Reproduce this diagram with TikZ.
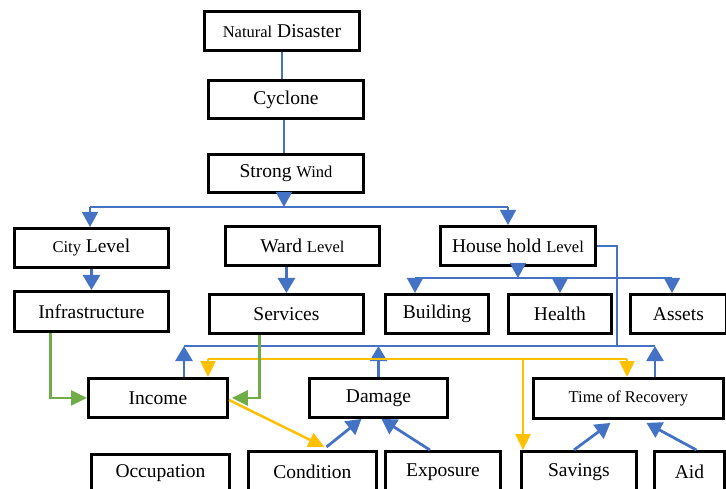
\documentclass[tikz,border=0pt]{standalone}
\usepackage{fontspec}
\setmainfont{Liberation Serif}
\usetikzlibrary{arrows.meta}
\definecolor{blueln}{HTML}{4472C4}
\definecolor{yelln}{HTML}{FFC000}
\definecolor{grnln}{HTML}{70AD47}
\newcommand\smtxt{\fontsize{16.5}{19}\selectfont}
\tikzset{
  box/.style={draw, line width=2.9pt, anchor=north west, inner sep=0pt,
    font=\fontsize{19.5}{23}\selectfont},
  thinb/.style={draw=blueln, line width=1.6pt},
  thinarr/.style={thinb, -{Triangle[length=15pt,width=16pt]}},
  bluearr/.style={draw=blueln, line width=2.8pt, -{Triangle[length=15pt,width=17pt]}},
  ythin/.style={draw=yelln, line width=1.8pt},
  yarr/.style={draw=yelln, line width=2.5pt, -{Triangle[length=16pt,width=15pt]}},
  garr/.style={draw=grnln, line width=2.8pt, -{Triangle[length=16pt,width=15pt]}}
}
\begin{document}
\begin{tikzpicture}[x=1pt,y=-1pt]
\useasboundingbox (0,0) rectangle (726,489);
% top chain
\node[box,minimum width=155pt,minimum height=39pt] (nd) at (203,10) {{\smtxt Natural} Disaster};
\node[box,minimum width=155pt,minimum height=38pt] (cyc) at (207,79) {Cyclone};
\node[box,minimum width=155pt,minimum height=38pt] (wind) at (207,153) {Strong {\smtxt Wind}};
% levels
\node[box,minimum width=154pt,minimum height=39pt] (city) at (13,227) {{\smtxt City} Level};
\node[box,minimum width=154pt,minimum height=39pt] (ward) at (224,225) {Ward {\smtxt Level}};
\node[box,minimum width=155pt,minimum height=39pt] (house) at (439,225) {House hold {\smtxt Level}};
\node[box,minimum width=154pt,minimum height=40pt] (infra) at (13,290) {Infrastructure};
\node[box,minimum width=154pt,minimum height=39pt] (serv) at (208,293) {Services};
\node[box,minimum width=103pt,minimum height=39pt] (build) at (384,293) {Building};
\node[box,minimum width=103pt,minimum height=39pt] (health) at (507,293) {Health};
\node[box,minimum width=96pt,minimum height=39pt] (assets) at (629,293) {Assets};
% outcomes
\node[box,minimum width=139pt,minimum height=39pt] (income) at (87,377) {Income};
\node[box,minimum width=138pt,minimum height=39pt] (damage) at (308,377) {Damage};
\node[box,minimum width=190pt,minimum height=40pt] (tor) at (532,377) {\smtxt Time of Recovery};
% bottom row
\node[box,minimum width=138pt,minimum height=38pt] (occ) at (90,453) {Occupation};
\node[box,minimum width=128pt,minimum height=41pt] (cond) at (247,450) {Condition\hspace{12pt}};
\node[box,minimum width=115pt,minimum height=41pt] (expo) at (384,450) {Exposure};
\node[box,minimum width=115pt,minimum height=41pt] (sav) at (520,450) {Savings};
\node[box,minimum width=70pt,minimum height=41pt] (aid) at (653,450) {Aid};
% bars
\coordinate (barL) at (90,207);
\coordinate (barR) at (508,207);
\coordinate (hbL) at (415,278);
\coordinate (hbR) at (672,278);
\coordinate (ubL) at (184,346);
\coordinate (ubR) at (655,346);
\coordinate (hr) at (617,346);
\coordinate (ybL) at (208,359);
\coordinate (ybM) at (523,359);
\coordinate (ybR) at (627,359);
\draw[thinb] (nd.south) -- (nd.south |- cyc.north);
\draw[thinb] ([xshift=-2pt]cyc.south) -- ([xshift=-2pt]cyc.south |- wind.north);
\draw[thinarr] ([xshift=-2pt]wind.south) -- ([xshift=-2pt]wind.south |- barL);
\draw[thinb] (barL) -- (barR);
\draw[thinarr] (barL) -- (barL |- city.north);
\draw[thinarr] (barR) -- (barR |- house.north);
\draw[bluearr] (city.south) -- (city.south |- infra.north);
\draw[bluearr] (serv.north |- ward.south) -- (serv.north);
\draw[thinarr] (house.south) -- (house.south |- hbL);
\draw[thinb] (hbL) -- (hbR);
\draw[thinarr] (hbL) -- (hbL |- build.north);
\draw[thinarr] (health.north |- hbL) -- (health.north);
\draw[thinarr] (hbR) -- (hbR |- assets.north);
\draw[thinb] (house.east) -| (hr);
\draw[thinb] (ubL) -- (ubR);
\draw[bluearr] (ubL |- income.north) -- (ubL);
\draw[bluearr] (damage.north) -- (damage.north |- ubL);
\draw[bluearr] (ubR |- tor.north) -- (ubR);
\draw[ythin] (ybL) -- (ybR);
\draw[yarr] (ybL) -- (ybL |- income.north);
\draw[yarr] (ybR) -- (ybR |- tor.north);
\draw[yarr] (ybM) -- (ybM |- sav.north);
\draw[garr] ([xshift=-41pt]infra.south) |- (income.west);
\draw[garr] ([xshift=-27pt]serv.south) |- ([xshift=3pt]income.east);
\draw[yarr] ([yshift=-2pt]income.east) -- ([xshift=12pt,yshift=3pt]cond.north);
\draw[bluearr] ([xshift=14pt,yshift=3pt]cond.north) -- ([xshift=-17pt]damage.south);
\draw[bluearr] ([xshift=-13pt]expo.north) -- ([xshift=3pt]damage.south);
\draw[bluearr] ([xshift=-5pt]sav.north) -- ([xshift=-18pt,yshift=-3pt]tor.south);
\draw[bluearr] ([xshift=7pt]aid.north) -- ([xshift=18pt,yshift=-3pt]tor.south);
\end{tikzpicture}
\end{document}
